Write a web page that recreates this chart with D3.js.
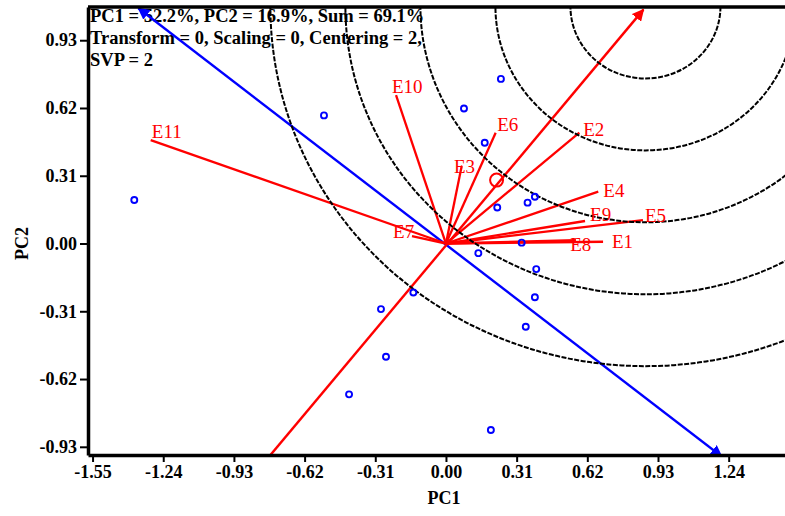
<!DOCTYPE html>
<html>
<head>
<meta charset="utf-8">
<script src="https://cdn.jsdelivr.net/npm/d3@7"></script>
<style>
  body { margin: 0; background: #fff; }
  text { font-family: "Liberation Serif", "Times New Roman", serif; }
</style>
</head>
<body>
<script>
// GGE biplot - mean vs stability view

var envNames = ["E1", "E2", "E3", "E4", "E5", "E6", "E7", "E8", "E9", "E10", "E11"];
var envPC1 = [0.689, 0.585, 0.069, 0.668, 0.864, 0.218, -0.149, 0.57, 0.61, -0.219, -1.295];
var envPC2 = [0.008, 0.507, 0.355, 0.237, 0.107, 0.507, 0.034, 0.015, 0.103, 0.679, 0.473];
// label anchor (start of text, baseline) for each environment
var labelPC1 = [0.728, 0.602, 0.035, 0.690, 0.873, 0.225, -0.232, 0.545, 0.632, -0.237, -1.290];
var labelPC2 = [-0.020, 0.490, 0.322, 0.212, 0.098, 0.515, 0.025, -0.035, 0.105, 0.688, 0.482];

var genPC1 = [-1.367, -0.535, 0.241, 0.079, 0.170, 0.225, 0.358, 0.390, 0.332, 0.142,
              0.396, -0.143, 0.390, 0.350, -0.285, -0.263, -0.425, 0.197];
var genPC2 = [0.199, 0.586, 0.753, 0.618, 0.461, 0.165, 0.187, 0.214, 0.004, -0.044,
              -0.117, -0.224, -0.246, -0.381, -0.300, -0.518, -0.690, -0.853];

// average environment axis and its perpendicular
var aecLine = [[-0.770, -0.968], [0.866, 1.070]];
var atcLine = [[-1.349, 1.076], [1.209, -0.974]];
var aecMark = [0.222, 0.290];

// concentric circles around the ideal point
var idealPoint = [0.875, 1.084];
var circleRadii = [0.329, 0.658, 0.987, 1.316, 1.645];

var xTicks = [-1.55, -1.24, -0.93, -0.62, -0.31, 0.00, 0.31, 0.62, 0.93, 1.24];
var yTicks = [-0.93, -0.62, -0.31, 0.00, 0.31, 0.62, 0.93];

var infoLines = ["PC1 = 52.2%, PC2 = 16.9%, Sum = 69.1%",
                 "Transform = 0, Scaling = 0, Centering = 2,",
                 "SVP = 2"];

var margin = {top: 7, right: 0, bottom: 61, left: 88},
    width = 785 - margin.left - margin.right,
    height = 516 - margin.top - margin.bottom;

var svg = d3.select("body").append("svg")
    .attr("width", width + margin.left + margin.right)
    .attr("height", height + margin.top + margin.bottom)
    .append("g")
    .attr("transform", "translate(" + margin.left + "," + margin.top + ")");

var xScale = d3.scaleLinear().domain([-1.570, 1.487]).range([0, width]);
var yScale = d3.scaleLinear().domain([-0.9675, 1.082]).range([height, 0]);

var defs = svg.append("defs");
defs.append("clipPath")
    .attr("id", "plotClip")
    .append("rect")
    .attr("width", width)
    .attr("height", height);

function addArrow(id, color) {
    defs.append("marker")
        .attr("id", id)
        .attr("viewBox", "0 0 10 10")
        .attr("refX", 9)
        .attr("refY", 5)
        .attr("markerWidth", 5)
        .attr("markerHeight", 5)
        .attr("markerUnits", "strokeWidth")
        .attr("orient", "auto-start-reverse")
        .append("path")
        .attr("d", "M0,0 L10,5 L0,10 Z")
        .attr("fill", color);
}
addArrow("arrowBlue", "#0000ff");
addArrow("arrowRed", "#ff0000");

// info text in the top left corner
svg.append("g")
    .selectAll("text")
    .data(infoLines)
    .enter().append("text")
    .attr("x", 2)
    .attr("y", function(d, i) { return 15 + i * 22; })
    .attr("font-size", "18.5px")
    .attr("font-weight", "bold")
    .attr("fill", "#000")
    .text(function(d) { return d; });

var plot = svg.append("g").attr("clip-path", "url(#plotClip)");

// blue axis (perpendicular to the AEC)
plot.append("line")
    .attr("x1", xScale(atcLine[0][0]))
    .attr("y1", yScale(atcLine[0][1]))
    .attr("x2", xScale(atcLine[1][0]))
    .attr("y2", yScale(atcLine[1][1]))
    .attr("stroke", "#0000ff")
    .attr("stroke-width", 2.4)
    .attr("marker-start", "url(#arrowBlue)")
    .attr("marker-end", "url(#arrowBlue)");

// red AEC line
plot.append("line")
    .attr("x1", xScale(aecLine[0][0]))
    .attr("y1", yScale(aecLine[0][1]))
    .attr("x2", xScale(aecLine[1][0]))
    .attr("y2", yScale(aecLine[1][1]))
    .attr("stroke", "#ff0000")
    .attr("stroke-width", 2.4)
    .attr("marker-end", "url(#arrowRed)");

// environment vectors
var envData = envNames.map(function(n, i) {
    return {name: n, x: envPC1[i], y: envPC2[i], lx: labelPC1[i], ly: labelPC2[i]};
});

plot.selectAll(".envLine")
    .data(envData)
    .enter().append("line")
    .attr("class", "envLine")
    .attr("x1", xScale(0))
    .attr("y1", yScale(0))
    .attr("x2", function(d) { return xScale(d.x); })
    .attr("y2", function(d) { return yScale(d.y); })
    .attr("stroke", "#ff0000")
    .attr("stroke-width", 2.3);

plot.append("circle")
    .attr("cx", xScale(aecMark[0]))
    .attr("cy", yScale(aecMark[1]))
    .attr("r", 6.5)
    .attr("fill", "none")
    .attr("stroke", "#ff0000")
    .attr("stroke-width", 2);

// dashed circles, drawn as ellipses since the two axes use different px/unit
plot.selectAll(".ring")
    .data(circleRadii)
    .enter().append("ellipse")
    .attr("class", "ring")
    .attr("cx", xScale(idealPoint[0]))
    .attr("cy", yScale(idealPoint[1]))
    .attr("rx", function(r) { return xScale(r) - xScale(0); })
    .attr("ry", function(r) { return yScale(0) - yScale(r); })
    .attr("fill", "none")
    .attr("stroke", "#000")
    .attr("stroke-width", 2)
    .attr("stroke-dasharray", "5,1.5");

// genotypes
var genData = genPC1.map(function(v, i) { return [v, genPC2[i]]; });
plot.selectAll(".gen")
    .data(genData)
    .enter().append("circle")
    .attr("class", "gen")
    .attr("cx", function(d) { return xScale(d[0]); })
    .attr("cy", function(d) { return yScale(d[1]); })
    .attr("r", 3)
    .attr("fill", "none")
    .attr("stroke", "#0000ff")
    .attr("stroke-width", 1.9);

// environment labels
svg.selectAll(".envLabel")
    .data(envData)
    .enter().append("text")
    .attr("class", "envLabel")
    .attr("x", function(d) { return xScale(d.lx); })
    .attr("y", function(d) { return yScale(d.ly); })
    .attr("font-size", "19px")
    .attr("fill", "#ff0000")
    .text(function(d) { return d.name; });

// frame top line
svg.append("line")
    .attr("x1", 0).attr("x2", width)
    .attr("y1", 0).attr("y2", 0)
    .attr("stroke", "#000")
    .attr("stroke-width", 3.5);

var xAxis = d3.axisBottom(xScale)
    .tickValues(xTicks)
    .tickSize(7)
    .tickSizeOuter(0)
    .tickFormat(function(d) { return d.toFixed(2); });

var yAxis = d3.axisLeft(yScale)
    .tickValues(yTicks)
    .tickSize(8)
    .tickSizeOuter(0)
    .tickFormat(function(d) { return d.toFixed(2); });

var gx = svg.append("g")
    .attr("transform", "translate(0," + height + ")")
    .call(xAxis);

var gy = svg.append("g")
    .call(yAxis);

[gx, gy].forEach(function(g) {
    g.select(".domain").attr("stroke", "#000").attr("stroke-width", 3.5);
    g.selectAll(".tick line").attr("stroke", "#000").attr("stroke-width", 2);
    g.selectAll(".tick text")
        .attr("font-family", "Liberation Serif, serif")
        .attr("font-size", "18px")
        .attr("font-weight", "bold")
        .attr("fill", "#000");
});
gx.selectAll(".tick text").attr("dy", "0.71em").attr("y", 10);
gy.selectAll(".tick text").attr("x", -11);

// axis titles
svg.append("text")
    .attr("x", xScale(0) - 2)
    .attr("y", height + 49)
    .attr("text-anchor", "middle")
    .attr("font-size", "18px")
    .attr("font-weight", "bold")
    .text("PC1");

svg.append("text")
    .attr("transform", "rotate(-90)")
    .attr("x", -yScale(0))
    .attr("y", -60)
    .attr("text-anchor", "middle")
    .attr("font-size", "18px")
    .attr("font-weight", "bold")
    .text("PC2");
</script>
</body>
</html>
